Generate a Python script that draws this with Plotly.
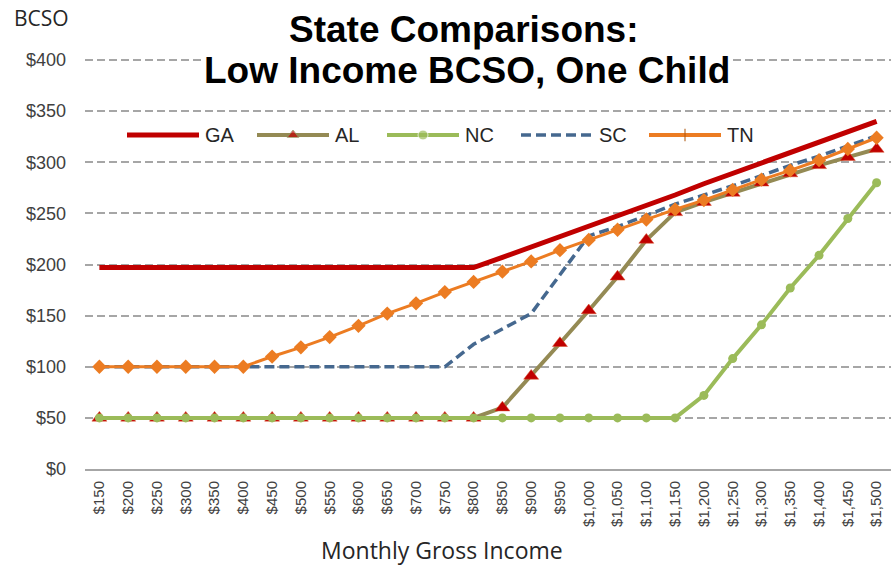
import plotly.graph_objects as go

incomes = ["$150", "$200", "$250", "$300", "$350", "$400", "$450", "$500", "$550", "$600",
           "$650", "$700", "$750", "$800", "$850", "$900", "$950", "$1,000", "$1,050", "$1,100",
           "$1,150", "$1,200", "$1,250", "$1,300", "$1,350", "$1,400", "$1,450", "$1,500"]
ga = [197, 197, 197, 197, 197, 197, 197, 197, 197, 197, 197, 197, 197, 197,
      207, 217, 228, 238, 248, 258, 268, 279, 289, 299, 309, 320, 330, 340]
al = [50, 50, 50, 50, 50, 50, 50, 50, 50, 50, 50, 50, 50, 50,
      60, 91, 123, 155, 188, 224, 251, 261, 270, 280, 289, 297, 305, 313]
nc = [50, 50, 50, 50, 50, 50, 50, 50, 50, 50, 50, 50, 50, 50, 50, 50, 50, 50, 50, 50, 50,
      72, 108, 141, 177, 209, 245, 280]
sc = [100, 100, 100, 100, 100, 100, 100, 100, 100, 100, 100, 100, 100,
      122, 137, 152, 190, 228, 237, 248, 259, 268, 277, 287, 297, 306, 316, 326]
tn = [100, 100, 100, 100, 100, 100, 110, 119, 129, 140, 152, 162, 173, 183,
      193, 203, 214, 224, 234, 244, 254, 263, 273, 283, 292, 302, 313, 324]
y_ticks = [0, 50, 100, 150, 200, 250, 300, 350, 400]
y_labels = ["$0", "$50", "$100", "$150", "$200", "$250", "$300", "$350", "$400"]

C_GA = "#C00000"
C_AL = "#948A54"
C_ALM = "#C00000"
C_NC = "#9BBB59"
C_SC = "#45688F"
C_TN = "#EC7C22"

W, H = 891, 567
L, R, T, B = 85, 891, 59, 469

fig = go.Figure()
fig.add_trace(go.Scatter(x=incomes, y=ga, mode="lines", name="GA",
                         line=dict(color=C_GA, width=5)))
fig.add_trace(go.Scatter(x=incomes, y=al, mode="lines+markers", name="AL",
                         line=dict(color=C_AL, width=4),
                         marker=dict(symbol="triangle-up", size=13, color=C_ALM,
                                     line=dict(color="#D8502A", width=0.5))))
fig.add_trace(go.Scatter(x=incomes, y=nc, mode="lines+markers", name="NC",
                         line=dict(color=C_NC, width=4),
                         marker=dict(symbol="circle", size=9, color=C_NC)))
fig.add_trace(go.Scatter(x=incomes, y=sc, mode="lines", name="SC",
                         line=dict(color=C_SC, width=3.5, dash="10px,5px")))
fig.add_trace(go.Scatter(x=incomes, y=tn, mode="lines+markers", name="TN",
                         line=dict(color=C_TN, width=3),
                         marker=dict(symbol="diamond", size=11, color=C_TN)))


# manual legend drawn on an overlay axis (0..1 in plot-area fraction)
def px(xp):
    return (xp - L) / (R - L)


def py(yp):
    return (B - yp) / (B - T)


legend_items = [
    ("GA", C_GA, 5, "solid", None, None, 127),
    ("AL", C_AL, 4, "solid", "triangle-up", C_ALM, 257),
    ("NC", C_NC, 4, "solid", "circle", C_NC, 387),
    ("SC", C_SC, 3.5, "10px,5px", None, None, 521),
    ("TN", C_TN, 4, "solid", "line-ns", C_TN, 649),
]
ly = 135
for name, col, w, dash, sym, mcol, x0 in legend_items:
    x1 = x0 + 72
    xs = [px(x0), px((x0 + x1) / 2), px(x1)]
    ys = [py(ly)] * 3
    mk = dict(size=[0, 10 if sym else 0, 0], color=mcol or col,
              symbol=sym or "circle")
    if sym == "line-ns":
        mk = dict(size=[0, 9, 0], symbol="line-ns", color=col,
                  line=dict(color="#B05A10", width=1.5))
    fig.add_trace(go.Scatter(x=xs, y=ys, xaxis="x2", yaxis="y2",
                             mode="lines+markers" if sym else "lines",
                             line=dict(color=col, width=w, dash=dash),
                             marker=mk, showlegend=False, hoverinfo="skip"))
    fig.add_annotation(x=px(x1 + 4), y=py(ly), xref="paper", yref="paper",
                       text=name, showarrow=False, xanchor="left", yanchor="middle",
                       font=dict(family="Liberation Sans, Arial", size=20, color="#262626"))

fig.update_layout(
    width=W, height=H,
    margin=dict(l=L, r=W - R, t=T, b=H - B),
    plot_bgcolor="white", paper_bgcolor="white",
    showlegend=False,
    xaxis=dict(type="category", range=[-0.5, 27.5], tickangle=-90, showgrid=False,
               showline=True, linecolor="#A6A6A6", linewidth=2,
               ticks="", tickfont=dict(family="Liberation Sans, Arial", size=15, color="#404040"),
               ticklabelstandoff=4),
    yaxis=dict(range=[0, 401], tickvals=y_ticks, ticktext=y_labels,
               showgrid=True, gridcolor="#A6A6A6", gridwidth=2, griddash="8px,4px",
               zeroline=False, showline=False, ticks="",
               tickfont=dict(family="Liberation Sans, Arial", size=18, color="#404040"),
               ticklabelstandoff=18),
    xaxis2=dict(overlaying="x", range=[0, 1], visible=False),
    yaxis2=dict(overlaying="y", range=[0, 1], visible=False),
)

# titles
for txt, cx, cy in [("<b>State Comparisons:</b>", 464, 30),
                    ("<b>Low Income BCSO, One Child</b>", 467, 70)]:
    fig.add_annotation(x=px(cx), y=py(cy), xref="paper", yref="paper",
                       text=txt, showarrow=False, xanchor="center", yanchor="middle",
                       bgcolor="white", borderpad=0,
                       font=dict(family="Liberation Sans, Arial", size=37, color="black"))
fig.add_annotation(x=px(41), y=py(18), xref="paper", yref="paper",
                   text="BCSO", showarrow=False, xanchor="center", yanchor="middle",
                   font=dict(family="Open Sans, Arial", size=21, color="#262626"))
fig.add_annotation(x=px(442), y=py(550), xref="paper", yref="paper",
                   text="Monthly Gross Income", showarrow=False, xanchor="center", yanchor="middle",
                   font=dict(family="Open Sans, Arial", size=23, color="#262626"))

fig.write_html("out.html")
